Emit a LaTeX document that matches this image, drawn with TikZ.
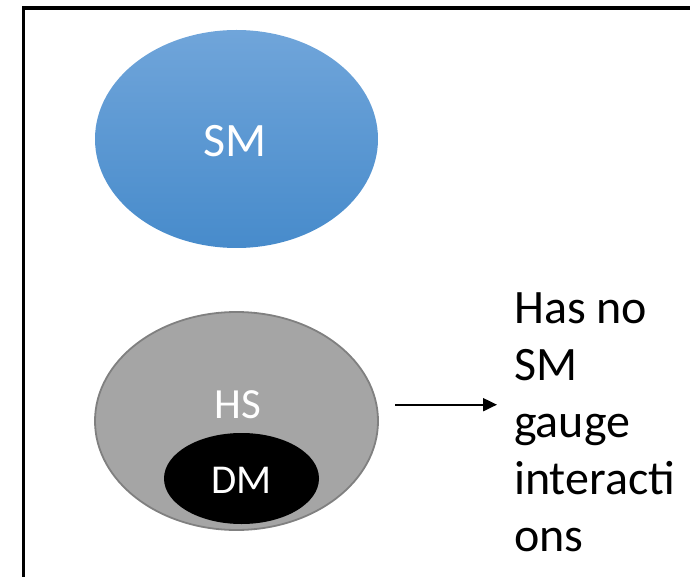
\documentclass[tikz,border=0pt]{standalone}
\usepackage{fontspec}
\setmainfont{Carlito}
\usetikzlibrary{arrows.meta,shapes.geometric}

\definecolor{smtop}{RGB}{112,165,218}
\definecolor{smbot}{RGB}{71,139,203}
\definecolor{hsfill}{RGB}{165,165,165}
\definecolor{hsline}{RGB}{128,128,128}

\tikzset{
  blob/.style={ellipse, inner sep=0pt, minimum width=283pt, minimum height=218pt},
  label/.style={text=white, inner sep=0pt, anchor=base},
  note/.style={align=left, inner sep=0pt, anchor=north west,
    font=\fontsize{48}{57}\selectfont},
  link/.style={line width=2pt, -{Triangle[length=14pt, width=13pt]}}
}

\begin{document}
\begin{tikzpicture}[x=1pt, y=-1pt]
  \useasboundingbox (0,0) rectangle (690,577);

  % outer frame, running past the right and bottom edges
  \begin{scope}
    \clip (0,0) rectangle (690,577);
    \draw[line width=3.5pt] (23.5,7.8) rectangle (720,620);
  \end{scope}

  % Standard Model
  \node[blob, top color=smtop, bottom color=smbot] (sm) at (236.5,139) {};
  \node[label, font=\fontsize{48}{57}\selectfont] (smtext) at (235.5,157) {SM};

  % hidden sector with dark matter inside
  \node[blob, fill=hsfill, draw=hsline, line width=1.8pt] (hs) at (236.5,421) {};
  \node[label, font=\fontsize{43}{52}\selectfont] (hstext) at (237.5,418) {HS};
  \node[ellipse, fill=black, inner sep=0pt, minimum width=155pt, minimum height=91pt] (dm) at (241.5,478.5) {};
  \node[label, font=\fontsize{41}{50}\selectfont] (dmtext) at (241.7,493) {DM};

  % explanatory note
  \node[note] (txt) at (514,292) {Has no\\SM\\gauge\\interacti\\ons};

  % arrow from the hidden sector towards the note
  \coordinate (a1) at (395,404.7);
  \coordinate (a2) at (497,404.7);
  \draw[link] (a1) -- (a2);
\end{tikzpicture}
\end{document}
